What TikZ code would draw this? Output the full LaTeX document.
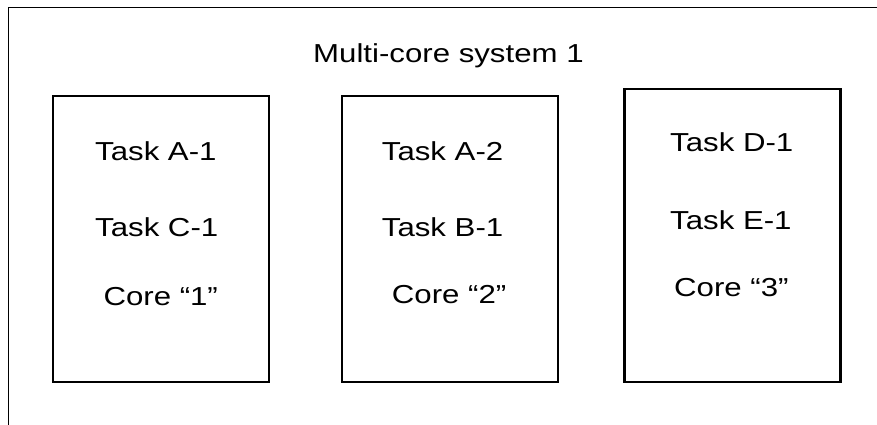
\documentclass[tikz,border=0pt]{standalone}
\usepackage{fontspec}
\setmainfont{Liberation Sans}[FakeStretch=1.2]
\begin{document}
\begin{tikzpicture}[x=1pt,y=-1pt,
  core/.style={draw=black,line width=2.2pt,minimum width=216pt,inner sep=0pt},
  lbl/.style={anchor=base west,inner sep=0pt,font=\fontsize{26}{30}\selectfont}]
\useasboundingbox (0,0) rectangle (877,425);
\coordinate (fb) at (8.5,425);
\coordinate (fc) at (8.5,7.5);
\coordinate (fr) at (877,7.5);
\draw[line width=1.9pt] (fb) -- (fc) -- (fr);
\node[lbl] (title) at (313,63) {Multi-core system 1};
\node[core,minimum height=286pt] (c1) at (160.6,238.9) {};
\node[core,minimum height=286pt] (c2) at (449.9,238.9) {};
\node[core,minimum height=292.7pt] (c3) at (732.4,235.4) {};
\node[lbl] (t1a) at (95,160) {Task A-1};
\node[lbl] (t1b) at (95,236.7) {Task C-1};
\node[lbl] (t1c) at (103.3,305) {Core “1”};
\node[lbl] (t2a) at (381.7,160) {Task A-2};
\node[lbl] (t2b) at (381.7,236.7) {Task B-1};
\node[lbl] (t2c) at (391.7,303.3) {Core “2”};
\node[lbl] (t3a) at (670,151.7) {Task D-1};
\node[lbl] (t3b) at (670,229.3) {Task E-1};
\node[lbl] (t3c) at (674,296.7) {Core “3”};
\end{tikzpicture}
\end{document}
